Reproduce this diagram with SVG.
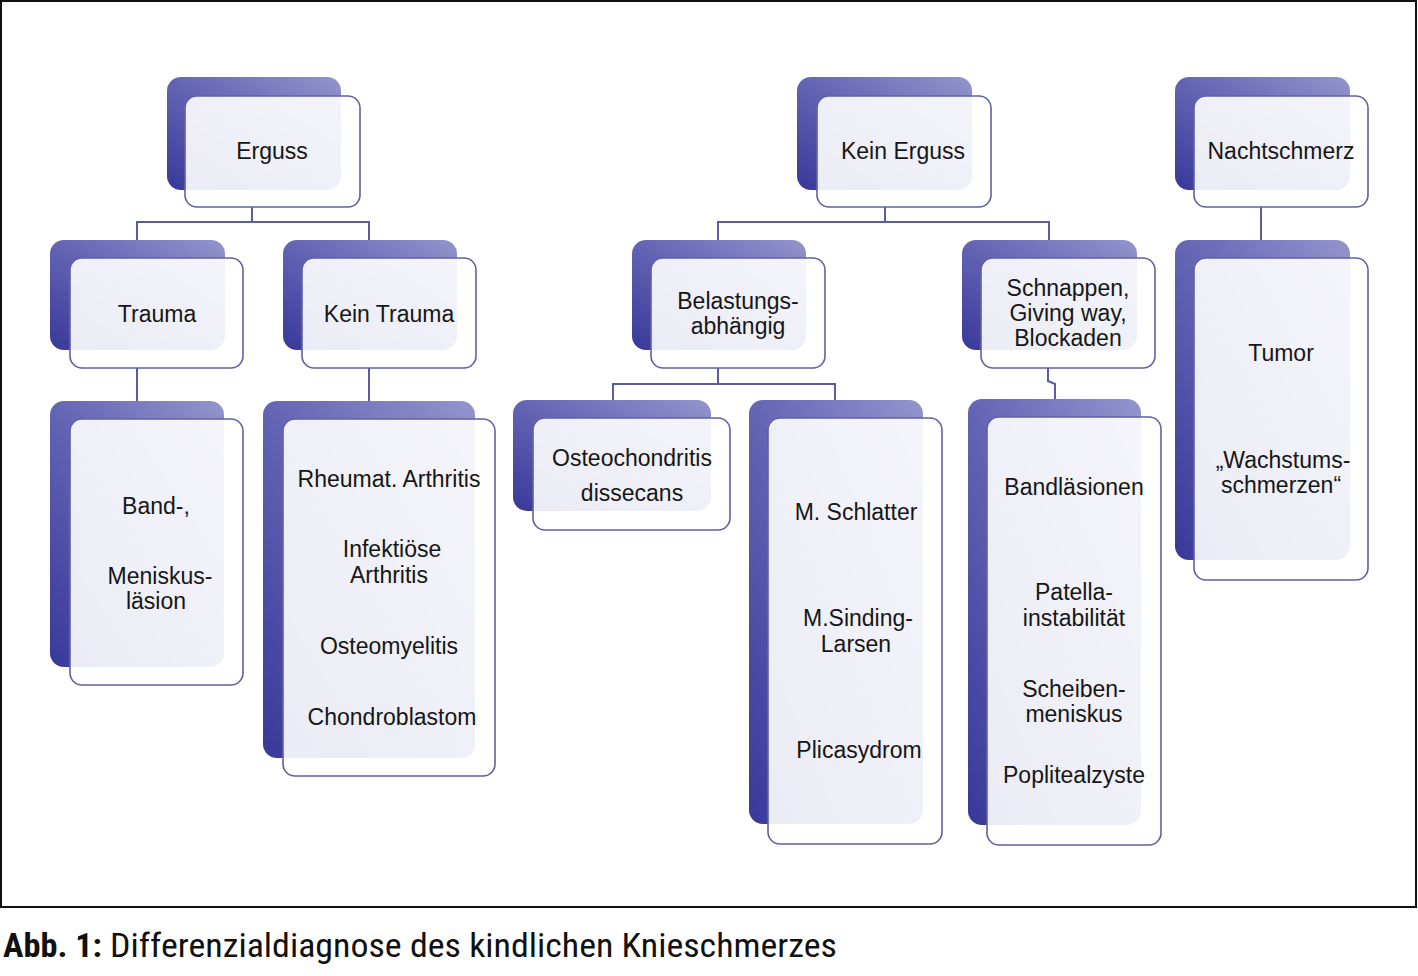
<svg xmlns="http://www.w3.org/2000/svg" width="1418" height="976" viewBox="0 0 1418 976">
<defs>
<linearGradient id="bg" x1="0" y1="1" x2="1" y2="0">
<stop offset="0" stop-color="#38389a"/>
<stop offset="0.5" stop-color="#6464b4"/>
<stop offset="1" stop-color="#9494cc"/>
</linearGradient>
<style>
.back{fill:url(#bg);}
.front{fill:#ffffff;fill-opacity:0.9;stroke:#6060a4;stroke-width:1.6;}
.t{font-family:"Liberation Sans",Arial,sans-serif;font-size:23px;fill:#161616;text-anchor:middle;}
.c{fill:none;stroke:#5c5ca2;stroke-width:2;}
.cap{font-family:"Liberation Sans Narrow","Roboto Condensed","DejaVu Sans Condensed",sans-serif;font-size:34px;fill:#111;}
</style>
</defs>
<rect x="0" y="0" width="1418" height="976" fill="#ffffff"/>
<rect x="1" y="1" width="1415" height="906" fill="none" stroke="#111" stroke-width="2"/>

<g id="connectors">
<polyline class="c" points="252,207 252,222"/>
<polyline class="c" points="137,240 137,222 369,222 369,240"/>
<polyline class="c" points="137,368 137,402"/>
<polyline class="c" points="369,368 369,402"/>
<polyline class="c" points="885,207 885,222"/>
<polyline class="c" points="718,240 718,222 1049,222 1049,240"/>
<polyline class="c" points="1261,207 1261,240"/>
<polyline class="c" points="718,368 718,384"/>
<polyline class="c" points="613,400 613,384 835,384 835,400"/>
<polyline class="c" points="1048,368 1048,381 1055,384 1055,400"/>
</g>

<g id="erguss">
<rect class="back" x="167" y="77" width="174" height="113" rx="14"/>
<rect class="front" x="185" y="96" width="175" height="111" rx="12"/>
<text class="t" x="272" y="159">Erguss</text>
</g>
<g id="kein-erguss">
<rect class="back" x="797" y="77" width="175" height="113" rx="14"/>
<rect class="front" x="817" y="96" width="174" height="111" rx="12"/>
<text class="t" x="903" y="159">Kein Erguss</text>
</g>
<g id="nachtschmerz">
<rect class="back" x="1175" y="77" width="175" height="113" rx="14"/>
<rect class="front" x="1194" y="96" width="174" height="111" rx="12"/>
<text class="t" x="1281" y="159">Nachtschmerz</text>
</g>
<g id="trauma">
<rect class="back" x="50" y="240" width="175" height="110" rx="14"/>
<rect class="front" x="70" y="258" width="173" height="110" rx="12"/>
<text class="t" x="157" y="322">Trauma</text>
</g>
<g id="kein-trauma">
<rect class="back" x="283" y="240" width="174" height="110" rx="14"/>
<rect class="front" x="302" y="258" width="174" height="110" rx="12"/>
<text class="t" x="389" y="322">Kein Trauma</text>
</g>
<g id="belastungsabhaengig">
<rect class="back" x="632" y="240" width="174" height="110" rx="14"/>
<rect class="front" x="651" y="258" width="174" height="110" rx="12"/>
<text class="t" x="738" y="309">Belastungs-</text>
<text class="t" x="738" y="334">abhängig</text>
</g>
<g id="schnappen">
<rect class="back" x="962" y="240" width="175" height="110" rx="14"/>
<rect class="front" x="981" y="258" width="174" height="110" rx="12"/>
<text class="t" x="1068" y="296">Schnappen,</text>
<text class="t" x="1068" y="321">Giving way,</text>
<text class="t" x="1068" y="346">Blockaden</text>
</g>
<g id="tumor">
<rect class="back" x="1175" y="240" width="175" height="320" rx="14"/>
<rect class="front" x="1194" y="258" width="174" height="322" rx="12"/>
<text class="t" x="1281" y="361">Tumor</text>
<text class="t" x="1283" y="468">„Wachstums-</text>
<text class="t" x="1281" y="493">schmerzen“</text>
</g>
<g id="band-meniskus">
<rect class="back" x="50" y="401" width="174" height="266" rx="14"/>
<rect class="front" x="70" y="419" width="173" height="266" rx="12"/>
<text class="t" x="156" y="514">Band-,</text>
<text class="t" x="160" y="584">Meniskus-</text>
<text class="t" x="156" y="609">läsion</text>
</g>
<g id="kein-trauma-diagnosen">
<rect class="back" x="263" y="401" width="212" height="357" rx="14"/>
<rect class="front" x="283" y="419" width="212" height="357" rx="12"/>
<text class="t" x="389" y="487">Rheumat. Arthritis</text>
<text class="t" x="392" y="557">Infektiöse</text>
<text class="t" x="389" y="583">Arthritis</text>
<text class="t" x="389" y="654">Osteomyelitis</text>
<text class="t" x="392" y="725">Chondroblastom</text>
</g>
<g id="osteochondritis">
<rect class="back" x="513" y="400" width="198" height="111" rx="14"/>
<rect class="front" x="533" y="418" width="197" height="112" rx="12"/>
<text class="t" x="632" y="466">Osteochondritis</text>
<text class="t" x="632" y="501">dissecans</text>
</g>
<g id="schlatter">
<rect class="back" x="749" y="400" width="174" height="424" rx="14"/>
<rect class="front" x="768" y="418" width="174" height="426" rx="12"/>
<text class="t" x="856" y="520">M. Schlatter</text>
<text class="t" x="858" y="626">M.Sinding-</text>
<text class="t" x="856" y="652">Larsen</text>
<text class="t" x="859" y="758">Plicasydrom</text>
</g>
<g id="bandlaesionen">
<rect class="back" x="968" y="399" width="173" height="426" rx="14"/>
<rect class="front" x="987" y="417" width="174" height="428" rx="12"/>
<text class="t" x="1074" y="495">Bandläsionen</text>
<text class="t" x="1074" y="600">Patella-</text>
<text class="t" x="1074" y="626">instabilität</text>
<text class="t" x="1074" y="697">Scheiben-</text>
<text class="t" x="1074" y="722">meniskus</text>
<text class="t" x="1074" y="783">Poplitealzyste</text>
</g>

<text class="cap" x="3" y="957"><tspan font-weight="bold" textLength="99" lengthAdjust="spacingAndGlyphs">Abb. 1:</tspan><tspan x="110" textLength="727" lengthAdjust="spacingAndGlyphs">Differenzialdiagnose des kindlichen Knieschmerzes</tspan></text>
</svg>
